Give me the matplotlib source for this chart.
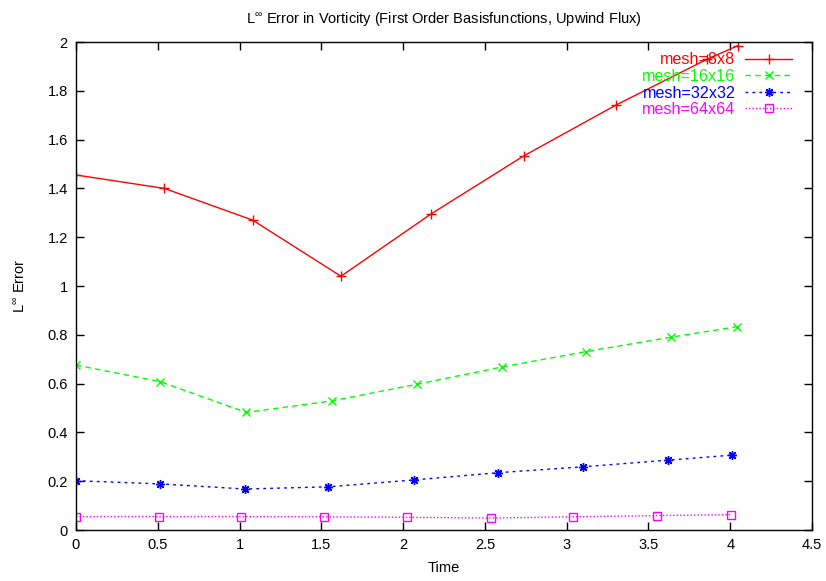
import matplotlib
matplotlib.use("Agg")
import matplotlib.pyplot as plt
import numpy as np

plt.rcParams['font.family'] = ['Liberation Sans', 'DejaVu Sans']
plt.rcParams['mathtext.fontset'] = 'custom'
plt.rcParams['mathtext.rm'] = 'Liberation Sans'
plt.rcParams['mathtext.it'] = 'Liberation Sans'

# Data
t_8 = [0.0, 0.54, 1.08, 1.62, 2.17, 2.737, 3.303, 3.86, 4.047]
e_8 = [1.455, 1.40, 1.27, 1.04, 1.295, 1.533, 1.742, 1.93, 1.985]

t_16 = [0.0, 0.515, 1.04, 1.564, 2.082, 2.603, 3.116, 3.637, 4.039]
e_16 = [0.676, 0.608, 0.482, 0.529, 0.597, 0.668, 0.731, 0.790, 0.833]

t_32 = [0.0, 0.515, 1.034, 1.543, 2.064, 2.583, 3.098, 3.617, 4.012]
e_32 = [0.202, 0.189, 0.168, 0.177, 0.205, 0.235, 0.259, 0.286, 0.307]

t_64 = [0.0, 0.506, 1.01, 1.519, 2.025, 2.535, 3.041, 3.550, 4.006]
e_64 = [0.055, 0.055, 0.055, 0.054, 0.052, 0.049, 0.054, 0.059, 0.063]

labels = ["mesh=8x8", "mesh=16x16", "mesh=32x32", "mesh=64x64"]
xticks = [0, 0.5, 1, 1.5, 2, 2.5, 3, 3.5, 4, 4.5]
xticklabels = ["0", "0.5", "1", "1.5", "2", "2.5", "3", "3.5", "4", "4.5"]
yticks = [0, 0.2, 0.4, 0.6, 0.8, 1.0, 1.2, 1.4, 1.6, 1.8, 2.0]
yticklabels = ["0", "0.2", "0.4", "0.6", "0.8", "1", "1.2", "1.4", "1.6", "1.8", "2"]

fig = plt.figure(figsize=(8.26, 5.81), dpi=100)
ax = fig.add_axes([76/826, 1-530/581, (812-76)/826, (530-42)/581])

ax.plot(t_8, e_8, color='#ff0000', linestyle='-', lw=1.0, marker='+', ms=6.5, mew=1.0, label=labels[0])
ax.plot(t_16, e_16, color='#00ff00', linestyle=(0, (4, 3)), lw=1.0, marker='x', ms=5.5, mew=1.0, label=labels[1])
ax.plot(t_32, e_32, color='#0000ff', linestyle=(0, (2, 3)), lw=1.0, marker=(8, 2, 0), ms=6.5, mew=1.0, label=labels[2])
ax.plot(t_64, e_64, color='#ff00ff', linestyle=(0, (1, 1.5)), lw=1.0, marker='s', ms=6, mew=1.0,
        fillstyle='none', label=labels[3])

ax.set_xlim(0, 4.5)
ax.set_ylim(0, 2)
ax.set_xticks(xticks)
ax.set_xticklabels(xticklabels)
ax.set_yticks(yticks)
ax.set_yticklabels(yticklabels)
ax.tick_params(direction='in', length=6, width=1, top=True, right=True, labelsize=10.5, pad=6, colors='black')
for s in ax.spines.values():
    s.set_linewidth(1.0)
    s.set_color('black')

ax.set_xlabel("Time", fontsize=10.5, labelpad=6)
ax.set_ylabel(r"L$^{\infty}$ Error", fontsize=10.5, labelpad=14)
ax.set_title(r"L$^{\infty}$ Error in Vorticity (First Order Basisfunctions, Upwind Flux)", fontsize=10.5, pad=14)

leg = ax.legend(loc='upper right', bbox_to_anchor=(0.988, 1.002), frameon=False, markerfirst=False,
                labelcolor='linecolor', fontsize=11.6, handlelength=2.9, handletextpad=0.6,
                labelspacing=0.1, borderpad=0.2)

fig.savefig("out.png", dpi=100)
